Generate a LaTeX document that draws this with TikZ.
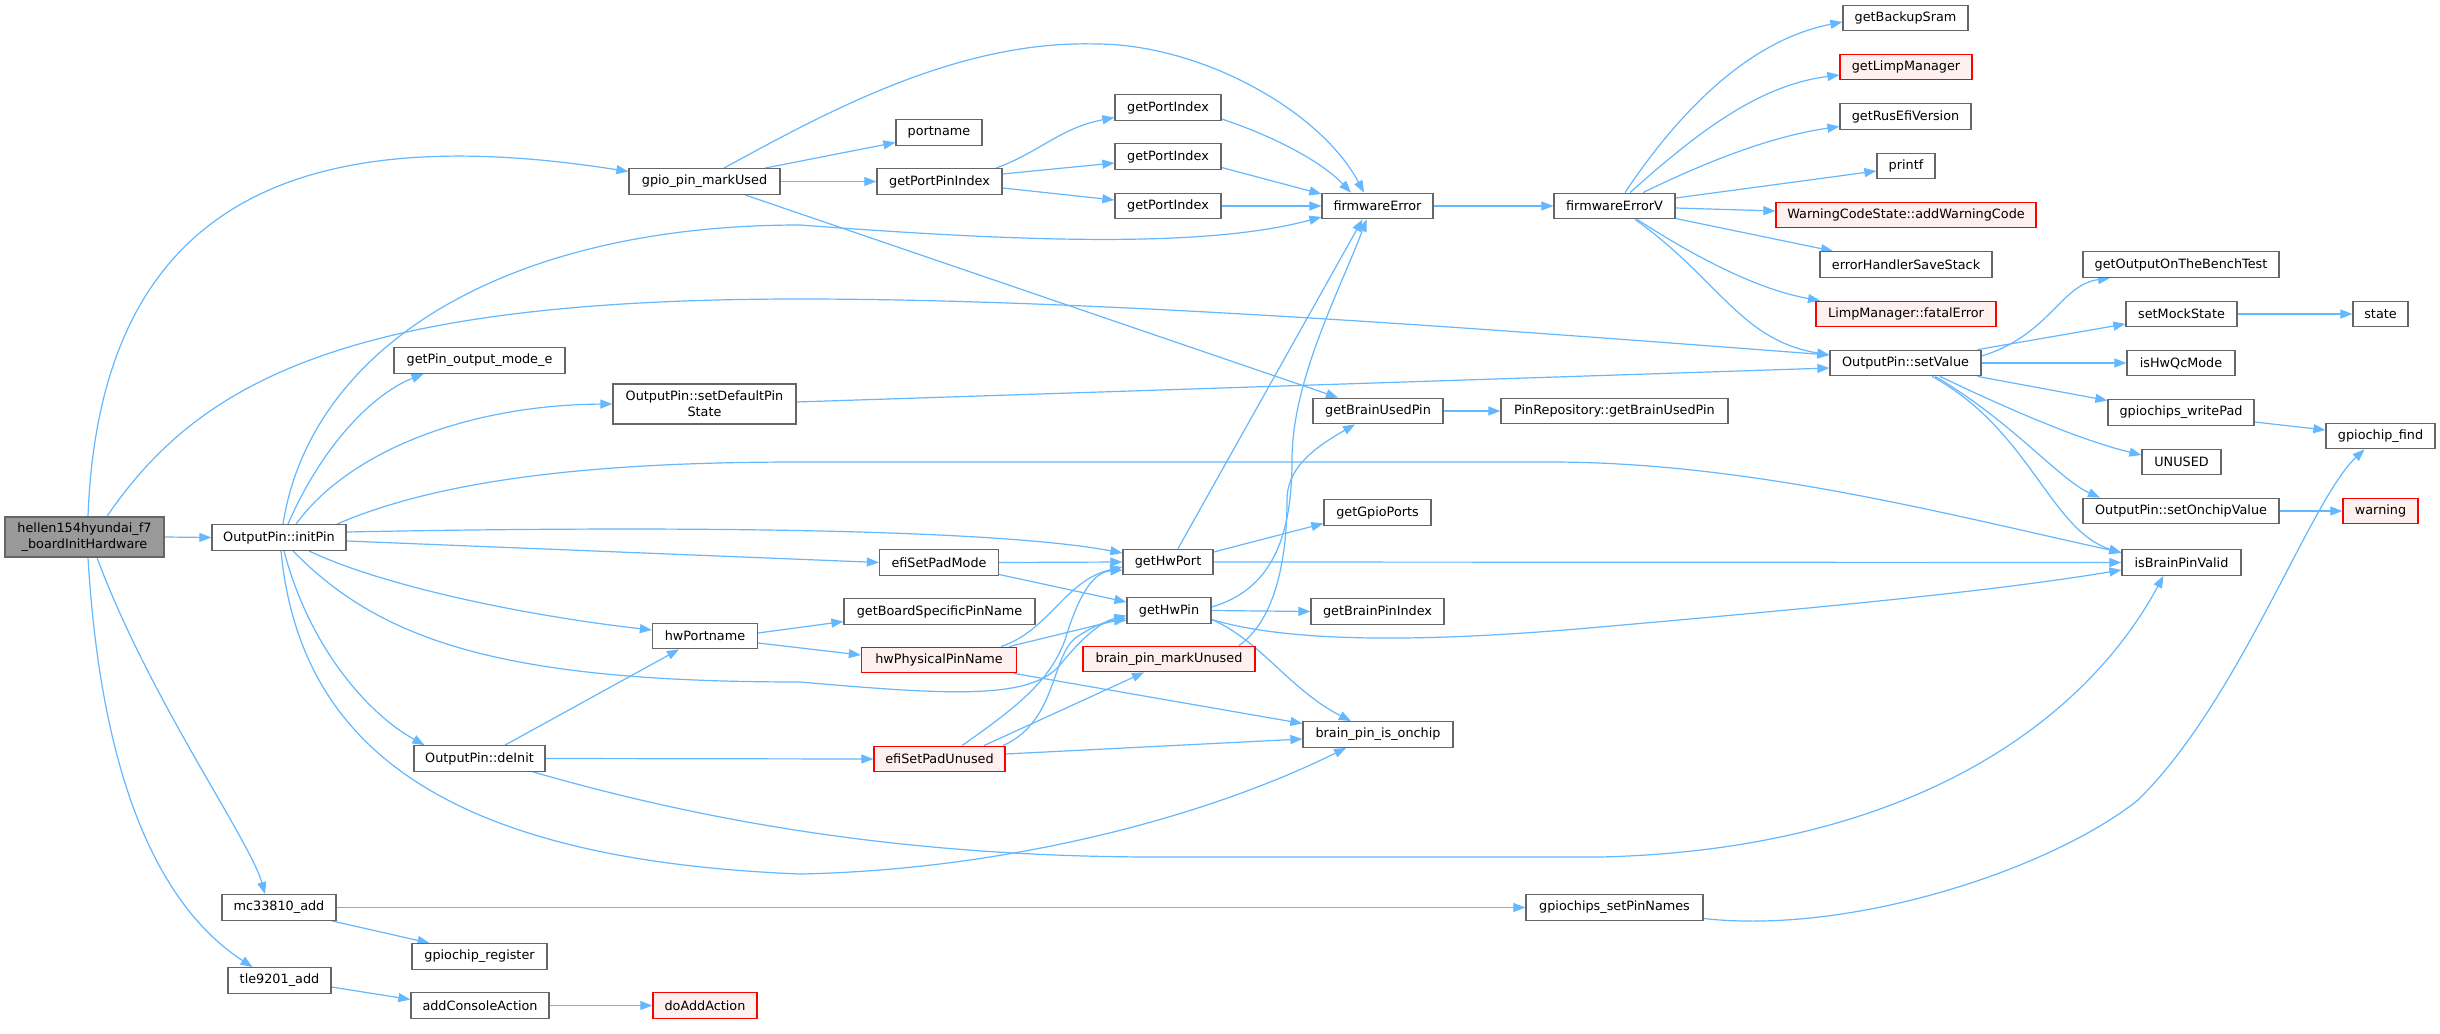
\documentclass[tikz,border=0pt]{standalone}
\usepackage{fontspec}
\setmainfont{DejaVu Sans}
\usetikzlibrary{arrows.meta}
\definecolor{edgeblue}{HTML}{63B8FF}
\definecolor{nodegray}{HTML}{666666}
\definecolor{rootfill}{HTML}{999999}
\definecolor{redfill}{HTML}{FFF0F0}
\pgfdeclarelayer{bg}
\pgfsetlayers{bg,main}
\begin{document}
\begin{tikzpicture}[x=1pt,y=-1pt,
  nd/.style={draw=nodegray, fill=white, line width=1.3pt, minimum height=25.5pt, inner sep=0pt, align=center, font=\fontsize{12.8pt}{16pt}\selectfont},
  rednd/.style={nd, draw=red, fill=redfill},
  rootnd/.style={nd, fill=rootfill},
  call/.style={draw=edgeblue, line width=1.2pt, -{Triangle[length=12pt,width=9pt]}},
]
\begin{pgfonlayer}{bg}
\fill[white] (0,0) rectangle (2440,1033);
\end{pgfonlayer}
\useasboundingbox (0,0) rectangle (2440,1033);
% column 0-3
\node[rootnd, minimum width=159pt, minimum height=40pt] (hellen) at (84.5,537) {hellen154hyundai\_f7\\\_boardInitHardware};
\node[nd, minimum width=134pt] (initPin) at (279,537.5) {OutputPin::initPin};
\node[nd, minimum width=114pt] (mc) at (279,907.5) {mc33810\_add};
\node[nd, minimum width=103pt] (tle) at (279.5,980.5) {tle9201\_add};
\node[nd, minimum width=171pt] (gpome) at (479.5,360.5) {getPin\_output\_mode\_e};
\node[nd, minimum width=131pt] (deinit) at (479.5,758.5) {OutputPin::deInit};
\node[nd, minimum width=135pt] (gpreg) at (479.5,956.5) {gpiochip\_register};
\node[nd, minimum width=138pt] (addca) at (480,1005.5) {addConsoleAction};
\node[nd, minimum width=151pt] (gpio) at (704.5,181.5) {gpio\_pin\_markUsed};
\node[nd, minimum width=183pt, minimum height=40pt] (sdps) at (704.5,404) {OutputPin::setDefaultPin\\State};
\node[nd, minimum width=105pt] (hwport) at (705,636) {hwPortname};
\node[rednd, minimum width=104pt] (doadd) at (705,1005.5) {doAddAction};
% column 4
\node[nd, minimum width=86pt] (portname) at (939,132.5) {portname};
\node[nd, minimum width=125pt] (gppi) at (939.5,181.5) {getPortPinIndex};
\node[nd, minimum width=119pt] (espm) at (939,562.5) {efiSetPadMode};
\node[nd, minimum width=191pt] (gbspn) at (939.5,611.5) {getBoardSpecificPinName};
\node[rednd, minimum width=155pt] (hwppn) at (939,660) {hwPhysicalPinName};
\node[rednd, minimum width=131pt] (espu) at (939.5,759) {efiSetPadUnused};
% column 5
\node[nd, minimum width=106pt] (gpi1) at (1168,107.5) {getPortIndex};
\node[nd, minimum width=106pt] (gpi2) at (1168,156.5) {getPortIndex};
\node[nd, minimum width=106pt] (gpi3) at (1168,206) {getPortIndex};
\node[nd, minimum width=90pt] (ghport) at (1168,562) {getHwPort};
\node[nd, minimum width=84pt] (ghpin) at (1169,610.5) {getHwPin};
\node[rednd, minimum width=172pt] (bpmu) at (1169,659) {brain\_pin\_markUnused};
% column 6
\node[nd, minimum width=111pt] (fe) at (1377.5,206) {firmwareError};
\node[nd, minimum width=130pt] (gbup) at (1378,411) {getBrainUsedPin};
\node[nd, minimum width=107pt] (ggp) at (1377.5,512.5) {getGpioPorts};
\node[nd, minimum width=133pt] (gbpi) at (1377.5,611.5) {getBrainPinIndex};
\node[nd, minimum width=150pt] (bpio) at (1378,734.5) {brain\_pin\_is\_onchip};
% column 7
\node[nd, minimum width=121pt] (fev) at (1614.5,206) {firmwareErrorV};
\node[nd, minimum width=227pt] (prgbup) at (1614.5,411) {PinRepository::getBrainUsedPin};
\node[nd, minimum width=177pt] (gspn) at (1614.5,907.5) {gpiochips\_setPinNames};
% column 8
\node[nd, minimum width=125pt] (gbs) at (1905.5,18) {getBackupSram};
\node[rednd, minimum width=132pt] (glm) at (1906,67) {getLimpManager};
\node[nd, minimum width=131pt] (grev) at (1905.5,116.5) {getRusEfiVersion};
\node[nd, minimum width=58pt] (printf) at (1906,166) {printf};
\node[rednd, minimum width=260pt] (awc) at (1906,215) {WarningCodeState::addWarningCode};
\node[nd, minimum width=172pt] (ehss) at (1906,264.5) {errorHandlerSaveStack};
\node[rednd, minimum width=180pt] (lmfe) at (1906,314) {LimpManager::fatalError};
\node[nd, minimum width=151pt] (setv) at (1905.5,363) {OutputPin::setValue};
% column 9
\node[nd, minimum width=196pt] (gobt) at (2181,264.5) {getOutputOnTheBenchTest};
\node[nd, minimum width=111pt] (sms) at (2181.5,314) {setMockState};
\node[nd, minimum width=108pt] (ihqm) at (2181,363) {isHwQcMode};
\node[nd, minimum width=146pt] (gwp) at (2181,412.5) {gpiochips\_writePad};
\node[nd, minimum width=79pt] (unused) at (2181.5,462) {UNUSED};
\node[nd, minimum width=196pt] (sov) at (2181,511) {OutputPin::setOnchipValue};
\node[nd, minimum width=119pt] (ibpv) at (2181.5,562.5) {isBrainPinValid};
% column 10
\node[nd, minimum width=55pt] (state) at (2380.5,314) {state};
\node[nd, minimum width=109pt] (gfind) at (2380.5,436) {gpiochip\_find};
\node[rednd, minimum width=75pt] (warn) at (2380.5,511) {warning};

\begin{pgfonlayer}{bg}
% hellen
\draw[call] ([xshift=3.5pt]hellen.north) .. controls (100,200) and (300,120) .. ([yshift=10pt]gpio.west);
\draw[call] ([xshift=22.5pt]hellen.north) .. controls (200,380) and (350,299) .. (800,299) .. controls (1100,299) and (1500,330) .. ([yshift=8pt]setv.west);
\draw[call] (hellen.east) -- (initPin.west);
\draw[call] ([xshift=12.5pt]hellen.south) .. controls (150,700) and (250,840) .. ([xshift=-14pt]mc.north);
\draw[call] ([xshift=3.5pt]hellen.south) .. controls (100,760) and (150,900) .. ([xshift=-27pt]tle.north);
% gpio_pin_markUsed
\draw[call] ([xshift=19.5pt]gpio.north) .. controls (830,110) and (960,40) .. (1096,44) .. controls (1200,44) and (1320,110) .. ([xshift=-13.5pt]fe.north);
\draw[call] ([xshift=60.5pt]gpio.north) -- ([yshift=-10pt]portname.west);
\draw[call] (gpio.east) -- (gppi.west);
\draw[call] ([xshift=40.5pt]gpio.south) -- ([xshift=-40pt]gbup.north);
% getPortPinIndex
\draw[call] ([xshift=56.5pt]gppi.north) .. controls (1040,152) and (1060,128) .. ([yshift=-10pt]gpi1.west);
\draw[call] ([yshift=7.5pt]gppi.east) -- ([yshift=-6.5pt]gpi2.west);
\draw[call] ([yshift=-6.5pt]gppi.east) -- ([yshift=6pt]gpi3.west);
\draw[call] ([yshift=-11.5pt]gpi1.east) .. controls (1270,135) and (1320,160) .. ([xshift=-26.5pt]fe.north);
\draw[call] ([yshift=-11pt]gpi2.east) -- ([yshift=12pt]fe.west);
\draw[call] (gpi3.east) -- (fe.west);
\draw[call] (fe.east) -- (fev.west);
% initPin
\draw[call] ([xshift=4pt]initPin.north) .. controls (310,350) and (500,225) .. (800,225) .. controls (1000,240) and (1200,250) .. ([yshift=-11pt]fe.west);
\draw[call] ([xshift=9pt]initPin.north) .. controls (320,450) and (370,395) .. ([xshift=-56pt]gpome.south);
\draw[call] ([xshift=17pt]initPin.north) .. controls (350,450) and (470,405) .. (sdps.west);
\draw[call] ([xshift=58pt]initPin.north) .. controls (450,475) and (620,462) .. (800,462) -- (1550,462) .. controls (1750,462) and (1950,515) .. ([yshift=10pt]ibpv.west);
\draw[call] ([yshift=5.5pt]initPin.east) .. controls (700,525) and (1000,530) .. ([yshift=9pt]ghport.west);
\draw[call] ([yshift=-3.5pt]initPin.east) -- (espm.west);
\draw[call] ([xshift=30pt]initPin.south) .. controls (380,585) and (520,615) .. ([yshift=6pt]hwport.west);
\draw[call] ([xshift=14pt]initPin.south) .. controls (380,640) and (500,682) .. (800,682) .. controls (950,695) and (1030,700) .. (1060,665) .. controls (1080,640) and (1100,622) .. ([yshift=-5pt]ghpin.west);
\draw[call] ([xshift=5pt]initPin.south) .. controls (310,650) and (370,715) .. ([xshift=-55pt]deinit.north);
\draw[call] ([xshift=2pt]initPin.south) .. controls (300,750) and (450,860) .. (800,874) .. controls (1000,870) and (1200,820) .. ([xshift=-32pt]bpio.south);
% deInit
\draw[call] ([xshift=25.5pt]deinit.north) -- ([xshift=-26pt]hwport.south);
\draw[call] (deinit.east) -- (espu.west);
\draw[call] ([xshift=53.5pt]deinit.south) .. controls (700,820) and (900,857) .. (1157,857) -- (1600,857) .. controls (1900,850) and (2080,730) .. ([xshift=-18pt]ibpv.south);
% mc33810, tle9201
\draw[call] (mc.east) -- (gspn.west);
\draw[call] ([xshift=53pt]mc.south) -- ([xshift=-50pt]gpreg.north);
\draw[call] ([yshift=-6.5pt]tle.east) -- ([yshift=6pt]addca.west);
\draw[call] (addca.east) -- (doadd.west);
\draw[call] ([yshift=-11pt]gspn.east) .. controls (1850,935) and (2050,870) .. (2138,800) .. controls (2240,700) and (2310,500) .. ([xshift=-16pt]gfind.south);
% hwPortname
\draw[call] ([yshift=3pt]hwport.east) -- ([yshift=-10pt]gbspn.west);
\draw[call] ([yshift=-7pt]hwport.east) -- ([yshift=5pt]hwppn.west);
% efiSetPadMode
\draw[call] (espm.east) -- (ghport.west);
\draw[call] ([yshift=-12pt]espm.east) -- ([yshift=8.5pt]ghpin.west);
% hwPhysicalPinName
\draw[call] ([xshift=62pt]hwppn.north) .. controls (1050,630) and (1065,580) .. ([yshift=-5pt]ghport.west);
\draw[call] ([xshift=70pt]hwppn.north) -- ([yshift=-7.5pt]ghpin.west);
\draw[call] ([xshift=75pt]hwppn.south) -- ([yshift=11pt]bpio.west);
% efiSetPadUnused
\draw[call] ([xshift=22.5pt]espu.north) .. controls (1020,705) and (1050,680) .. (1065,640) .. controls (1080,590) and (1095,572) .. ([yshift=-8pt]ghport.west);
\draw[call] ([xshift=44.5pt]espu.north) -- ([xshift=-25pt]bpmu.south);
\draw[call] ([xshift=63.5pt]espu.north) .. controls (1060,720) and (1050,650) .. (1080,635) .. controls (1095,625) and (1110,620) .. ([yshift=-10pt]ghpin.west);
\draw[call] ([yshift=5pt]espu.east) -- ([yshift=-4.5pt]bpio.west);
% getHwPort
\draw[call] ([xshift=10pt]ghport.north) -- ([xshift=-15pt]fe.south);
\draw[call] ([yshift=10pt]ghport.east) -- ([yshift=-11pt]ggp.west);
\draw[call] (ghport.east) -- (ibpv.west);
% getHwPin
\draw[call] (ghpin.east) -- (gbpi.west);
\draw[call] ([yshift=3.5pt]ghpin.east) .. controls (1270,590) and (1292,540) .. (1292,460) .. controls (1292,380) and (1340,290) .. ([xshift=-11pt]fe.south);
\draw[call] ([yshift=-9pt]ghpin.east) .. controls (1280,640) and (1400,645) .. (1600,627) .. controls (1850,605) and (2000,590) .. ([yshift=-7.5pt]ibpv.west);
\draw[call] ([yshift=-9pt]ghpin.east) .. controls (1260,640) and (1290,690) .. ([xshift=-27pt]bpio.north);
% brain_pin_markUnused
\draw[call] ([xshift=70pt]bpmu.north) .. controls (1275,620) and (1287,560) .. (1287,500) .. controls (1287,470) and (1310,450) .. ([xshift=-23pt]gbup.south);
\draw[call] (gbup.east) -- (prgbup.west);
% setDefaultPinState
\draw[call] ([yshift=2pt]sdps.east) -- ([yshift=-5pt]setv.west);
% firmwareErrorV
\draw[call] ([xshift=10.5pt]fev.north) .. controls (1680,110) and (1750,40) .. ([yshift=-4pt]gbs.west);
\draw[call] ([xshift=15.5pt]fev.north) .. controls (1700,130) and (1760,85) .. ([yshift=-8pt]glm.west);
\draw[call] ([xshift=28.5pt]fev.north) .. controls (1720,155) and (1780,135) .. ([yshift=-10pt]grev.west);
\draw[call] ([yshift=8pt]fev.east) -- ([yshift=-5pt]printf.west);
\draw[call] ([yshift=-2pt]fev.east) -- ([yshift=4pt]awc.west);
\draw[call] ([yshift=-12.5pt]fev.east) -- ([xshift=-73pt]ehss.north);
\draw[call] ([xshift=22.5pt]fev.south) .. controls (1700,260) and (1760,290) .. ([xshift=-86pt]lmfe.north);
\draw[call] ([xshift=20.5pt]fev.south) .. controls (1720,280) and (1740,340) .. ([yshift=8pt]setv.west);
% setValue
\draw[call] ([yshift=7pt]setv.east) .. controls (2050,335) and (2060,285) .. ([xshift=-71pt]gobt.south);
\draw[call] ([xshift=72pt]setv.north) -- ([yshift=-10pt]sms.west);
\draw[call] (setv.east) -- (ihqm.west);
\draw[call] ([xshift=72pt]setv.south) -- ([yshift=12pt]gwp.west);
\draw[call] ([xshift=34.5pt]setv.south) .. controls (2010,410) and (2080,440) .. ([yshift=7pt]unused.west);
\draw[call] ([xshift=29.5pt]setv.south) .. controls (2010,420) and (2060,480) .. ([xshift=-81pt]sov.north);
\draw[call] ([xshift=26.5pt]setv.south) .. controls (2030,430) and (2050,530) .. ([yshift=9.5pt]ibpv.west);
% column 9 to 10
\draw[call] (sms.east) -- (state.west);
\draw[call] ([yshift=-9.5pt]gwp.east) -- ([yshift=6pt]gfind.west);
\draw[call] (sov.east) -- (warn.west);
\end{pgfonlayer}
\end{tikzpicture}
\end{document}
